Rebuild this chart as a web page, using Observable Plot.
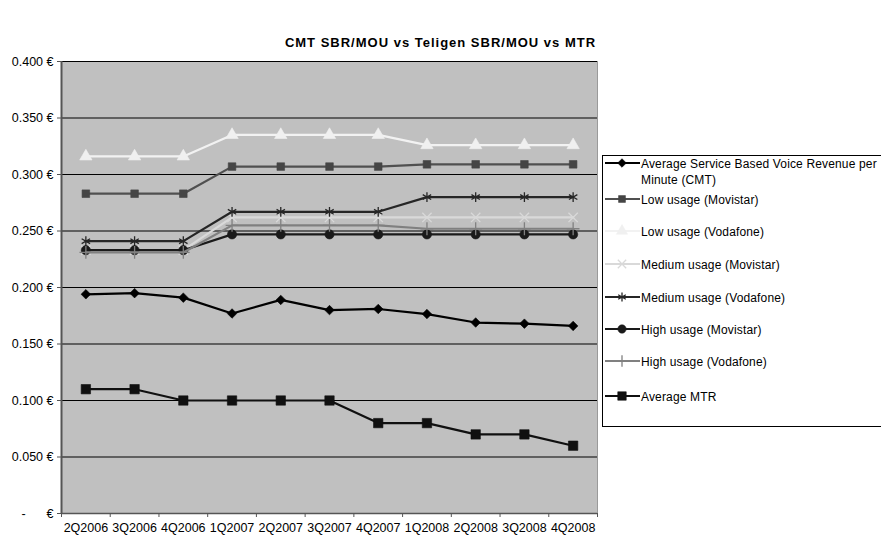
<!DOCTYPE html>
<html>
<head>
<meta charset="utf-8">
<script src="https://cdn.jsdelivr.net/npm/d3@7"></script>
<script src="https://cdn.jsdelivr.net/npm/@observablehq/plot@0.6"></script>
<style>
  body { margin: 0; background: #fff; }
  #wrap { position: relative; width: 881px; height: 538px; overflow: hidden; font-family: "Liberation Sans", Arial, sans-serif; }
  #title { position: absolute; left: 0; width: 881px; top: 35px; text-align: center; font-weight: bold; font-size: 13px; letter-spacing: 1px; line-height: 16px; }
  #chart { position: absolute; left: 0; top: 0; }
  #legend { position: absolute; left: 0; top: 0; }
  #legend text { letter-spacing: 0.15px; }
</style>
</head>
<body>
<div id="wrap">
  <div id="chart"></div>
  <div id="title">CMT SBR/MOU vs Teligen SBR/MOU vs MTR</div>
  <svg id="legend" width="881" height="538"></svg>
</div>
<script>
const quarters = ["2Q2006","3Q2006","4Q2006","1Q2007","2Q2007","3Q2007","4Q2007","1Q2008","2Q2008","3Q2008","4Q2008"];
const seriesNames = [
  "Average Service Based Voice Revenue per Minute (CMT)",
  "Low usage (Movistar)",
  "Low usage (Vodafone)",
  "Medium usage (Movistar)",
  "Medium usage (Vodafone)",
  "High usage (Movistar)",
  "High usage (Vodafone)",
  "Average MTR"
];
const cmt     = [0.194,0.195,0.191,0.177,0.189,0.180,0.181,0.1765,0.169,0.168,0.166];
const lowMov  = [0.283,0.283,0.283,0.307,0.307,0.307,0.307,0.309,0.309,0.309,0.309];
const lowVod  = [0.316,0.316,0.316,0.335,0.335,0.335,0.335,0.326,0.326,0.326,0.326];
const medMov  = [0.233,0.233,0.233,0.262,0.262,0.262,0.262,0.262,0.262,0.262,0.262];
const medVod  = [0.241,0.241,0.241,0.267,0.267,0.267,0.267,0.280,0.280,0.280,0.280];
const highMov = [0.233,0.233,0.233,0.247,0.247,0.247,0.247,0.247,0.247,0.247,0.247];
const highVod = [0.231,0.231,0.231,0.255,0.255,0.255,0.255,0.252,0.252,0.252,0.252];
const mtr     = [0.110,0.110,0.100,0.100,0.100,0.100,0.080,0.080,0.070,0.070,0.060];
const yTicks  = [0,0.05,0.10,0.15,0.20,0.25,0.30,0.35,0.40];

const values = [cmt, lowMov, lowVod, medMov, medVod, highMov, highVod, mtr];
const styles = [
  {line:"#000000", fill:"#000000", stroke:"#000000", symbol:"diamond2", r:4.3},
  {line:"#505050", fill:"#454545", stroke:"#454545", symbol:"square",   r:4.3},
  {line:"#f2f2f2", fill:"#f0f0f0", stroke:"#f0f0f0", symbol:"triangle", r:4.6},
  {line:"#d9d9d9", fill:"none",    stroke:"#d9d9d9", symbol:"times",    r:4.3},
  {line:"#262626", fill:"none",    stroke:"#262626", symbol:"asterisk", r:4.6},
  {line:"#1a1a1a", fill:"#1a1a1a", stroke:"#1a1a1a", symbol:"circle",   r:4.6},
  {line:"#808080", fill:"none",    stroke:"#808080", symbol:"plus",     r:4.2},
  {line:"#101010", fill:"#101010", stroke:"#101010", symbol:"square",   r:5.3}
];

const rows = values.map((arr, s) => arr.map((v, i) => ({s, i, v})));

const marks = [
  Plot.frame({fill: "#c0c0c0", stroke: null}),
  Plot.gridY(yTicks, {stroke: "#000", strokeOpacity: 1, strokeWidth: 1}),
  Plot.ruleX([10.5], {stroke: "#9a9a9a", strokeWidth: 1}),
  Plot.ruleY([0], {stroke: "#555", strokeWidth: 1.5}),
  Plot.ruleX([-0.5], {stroke: "#555", strokeWidth: 2}),
  Plot.axisY(yTicks, {tickSize: 4, tickPadding: 4, stroke: "#555", label: null,
    tickFormat: d => d === 0 ? "-\u00a0\u00a0\u00a0\u00a0\u00a0\u00a0\u20ac" : d.toFixed(3) + "\u00a0\u20ac",
    fill: "#000", fontSize: 12.5}),
  Plot.axisX(d3.range(-0.5, 11, 1), {tickSize: 4, tickFormat: () => "", stroke: "#555", label: null}),
  Plot.axisX(d3.range(0, 11), {tickSize: 0, tickPadding: 10, tickFormat: i => quarters[i], fill: "#000", fontSize: 12.5, label: null})
];
rows.forEach((data, s) => {
  const st = styles[s];
  marks.push(Plot.line(data, {x: "i", y: "v", stroke: st.line, strokeWidth: 2.2}));
  marks.push(Plot.dot(data, {x: "i", y: "v", symbol: () => st.symbol, r: st.r, fill: st.fill, stroke: st.stroke, strokeWidth: st.fill === "none" ? 1.3 : 0.6}));
});

const plot = Plot.plot({
  width: 881,
  height: 538,
  marginTop: 61,
  marginBottom: 25,
  marginLeft: 61,
  marginRight: 284,
  style: {fontFamily: "'Liberation Sans', Arial, sans-serif", fontSize: "12.5px", background: "transparent", overflow: "visible"},
  x: {type: "linear", domain: [-0.5, 10.5], label: null},
  y: {domain: [0, 0.4], label: null},
  marks
});
document.getElementById("chart").appendChild(plot);

// Legend
const lg = d3.select("#legend");
lg.append("rect").attr("x", 602.5).attr("y", 155.5).attr("width", 300).attr("height", 271)
  .attr("fill", "#fff").attr("stroke", "#000").attr("stroke-width", 1);
const legendY = [163, 199, 231, 264, 297, 329, 361, 396];
const symMap = {diamond2: d3.symbolDiamond2, square: d3.symbolSquare, triangle: d3.symbolTriangle,
  times: d3.symbolTimes, asterisk: d3.symbolAsterisk, circle: d3.symbolCircle, plus: d3.symbolPlus};
seriesNames.forEach((name, s) => {
  const st = styles[s];
  const y = legendY[s];
  lg.append("line").attr("x1", 605).attr("x2", 640).attr("y1", y).attr("y2", y)
    .attr("stroke", st.line).attr("stroke-width", 2.2);
  const rr = st.r * 0.9;
  lg.append("path").attr("d", d3.symbol(symMap[st.symbol], rr * rr * Math.PI)())
    .attr("transform", `translate(622,${y})`)
    .attr("fill", st.fill).attr("stroke", st.stroke).attr("stroke-width", st.fill === "none" ? 1.3 : 0.6);
  const t = lg.append("text").attr("x", 641).attr("y", y + 4.5)
    .attr("font-family", "'Liberation Sans', Arial, sans-serif").attr("font-size", 12).attr("fill", "#000");
  if (s === 0) {
    t.append("tspan").attr("x", 641).attr("y", y + 4.5).text("Average Service Based Voice Revenue per");
    t.append("tspan").attr("x", 641).attr("y", y + 20.5).text("Minute (CMT)");
  } else {
    t.text(name);
  }
});
</script>
</body>
</html>
